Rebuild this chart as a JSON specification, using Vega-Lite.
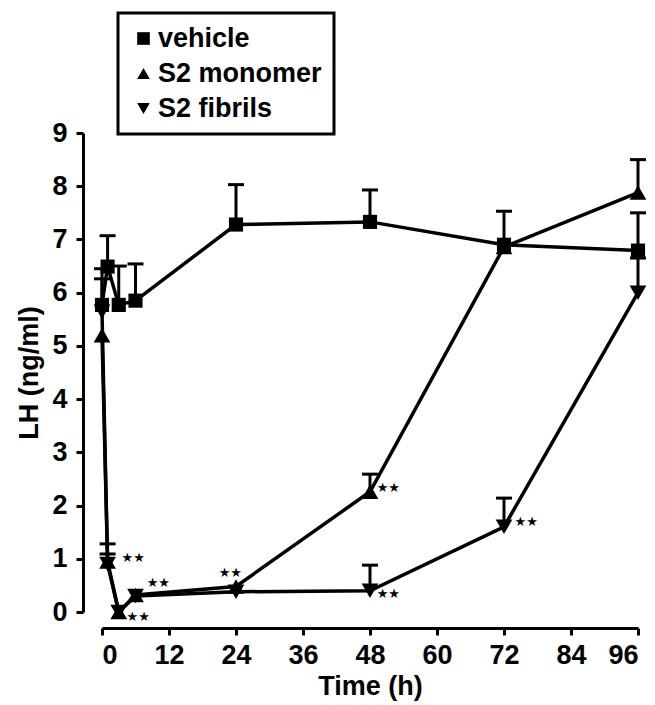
{
  "$schema": "https://vega.github.io/schema/vega-lite/v6.json",
  "width": 536,
  "height": 479,
  "autosize": {"type": "none"},
  "padding": {"left": 102, "top": 133, "right": 17, "bottom": 93},
  "background": "white",
  "config": {
    "view": {"stroke": null},
    "font": "Liberation Sans",
    "axis": {
      "grid": false,
      "domainColor": "black",
      "domainWidth": 3,
      "tickColor": "black",
      "tickWidth": 3,
      "tickSize": 7,
      "labelColor": "black",
      "labelFont": "Liberation Sans",
      "labelFontWeight": "bold",
      "labelFontSize": 27,
      "titleColor": "black",
      "titleFont": "Liberation Sans",
      "titleFontWeight": "bold",
      "titleFontSize": 27
    },
    "legend": {
      "orient": "none",
      "legendX": 16,
      "legendY": -120,
      "strokeColor": "black",
      "strokeWidth": 3,
      "padding": 12,
      "fillColor": "white",
      "labelFont": "Liberation Sans",
      "labelFontWeight": "bold",
      "labelFontSize": 27,
      "labelColor": "black",
      "labelOffset": 1,
      "labelLimit": 400,
      "rowPadding": 7,
      "symbolFillColor": "black",
      "symbolStrokeColor": "black",
      "symbolSize": 160,
      "symbolStrokeWidth": 0
    }
  },
  "datasets": {
    "lh": [
      {"group": "vehicle", "t": 0, "v": 5.77, "hi": 6.45},
      {"group": "vehicle", "t": 1, "v": 6.49, "hi": 7.07},
      {"group": "vehicle", "t": 3, "v": 5.77, "hi": 6.5},
      {"group": "vehicle", "t": 6, "v": 5.85, "hi": 6.54},
      {"group": "vehicle", "t": 24, "v": 7.28, "hi": 8.03},
      {"group": "vehicle", "t": 48, "v": 7.33, "hi": 7.93},
      {"group": "vehicle", "t": 72, "v": 6.9, "hi": 7.53},
      {"group": "vehicle", "t": 96, "v": 6.79, "hi": 7.5},
      {"group": "S2 monomer", "t": 0, "v": 5.2, "hi": null},
      {"group": "S2 monomer", "t": 1, "v": 0.95, "hi": 1.28},
      {"group": "S2 monomer", "t": 3, "v": 0.0, "hi": null},
      {"group": "S2 monomer", "t": 6, "v": 0.32, "hi": null},
      {"group": "S2 monomer", "t": 24, "v": 0.48, "hi": null},
      {"group": "S2 monomer", "t": 48, "v": 2.26, "hi": 2.59},
      {"group": "S2 monomer", "t": 72, "v": 6.86, "hi": null},
      {"group": "S2 monomer", "t": 96, "v": 7.88, "hi": 8.5},
      {"group": "S2 fibrils", "t": 0, "v": 5.64, "hi": 6.26},
      {"group": "S2 fibrils", "t": 1, "v": 0.9, "hi": 1.09},
      {"group": "S2 fibrils", "t": 3, "v": 0.0, "hi": null},
      {"group": "S2 fibrils", "t": 6, "v": 0.3, "hi": null},
      {"group": "S2 fibrils", "t": 24, "v": 0.38, "hi": null},
      {"group": "S2 fibrils", "t": 48, "v": 0.4, "hi": 0.88},
      {"group": "S2 fibrils", "t": 72, "v": 1.6, "hi": 2.14},
      {"group": "S2 fibrils", "t": 96, "v": 6.0, "hi": 6.65}
    ],
    "stars": [
      {"t": 3.5, "v": 1.02, "label": "★★"},
      {"t": 4.4, "v": -0.09, "label": "★★"},
      {"t": 8.0, "v": 0.55, "label": "★★"},
      {"t": 20.9, "v": 0.73, "label": "★★"},
      {"t": 49.2, "v": 2.33, "label": "★★"},
      {"t": 49.2, "v": 0.34, "label": "★★"},
      {"t": 73.9, "v": 1.69, "label": "★★"}
    ]
  },
  "layer": [
    {
      "data": {"name": "lh"},
      "mark": {"type": "line", "color": "black", "strokeWidth": 3.5, "clip": false},
      "encoding": {
        "x": {"field": "t", "type": "quantitative", "scale": {"domain": [0, 96], "nice": false},
          "axis": {"values": [0, 12, 24, 36, 48, 60, 72, 84, 96], "title": "Time (h)", "offset": 16, "labelPadding": 7, "titlePadding": 5}},
        "y": {"field": "v", "type": "quantitative", "scale": {"domain": [0, 9], "nice": false},
          "axis": {"values": [0, 1, 2, 3, 4, 5, 6, 7, 8, 9], "title": "LH (ng/ml)", "offset": 19, "labelPadding": 9, "titlePadding": 8}},
        "detail": {"field": "group"},
        "order": {"field": "t"}
      }
    },
    {
      "data": {"name": "lh"},
      "transform": [{"filter": "datum.hi != null"}],
      "mark": {"type": "rule", "color": "black", "strokeWidth": 3},
      "encoding": {
        "x": {"field": "t", "type": "quantitative"},
        "y": {"field": "v", "type": "quantitative"},
        "y2": {"field": "hi"}
      }
    },
    {
      "data": {"name": "lh"},
      "transform": [{"filter": "datum.hi != null"}],
      "mark": {"type": "tick", "color": "black", "orient": "horizontal", "size": 16, "thickness": 3, "opacity": 1},
      "encoding": {
        "x": {"field": "t", "type": "quantitative"},
        "y": {"field": "hi", "type": "quantitative"}
      }
    },
    {
      "data": {"name": "lh"},
      "transform": [{"filter": "datum.group != 'vehicle'"}],
      "mark": {"type": "point", "filled": true, "color": "black", "opacity": 1, "size": 280},
      "encoding": {
        "x": {"field": "t", "type": "quantitative"},
        "y": {"field": "v", "type": "quantitative"},
        "shape": {"field": "group", "type": "nominal",
          "scale": {"domain": ["vehicle", "S2 monomer", "S2 fibrils"], "range": ["square", "triangle-up", "triangle-down"]},
          "legend": {"title": null, "symbolSize": 160, "labelExpr": "datum.label + '\u00a0\u00a0\u00a0\u00a0\u00a0'"}}
      }
    },
    {
      "data": {"name": "lh"},
      "transform": [{"filter": "datum.group == 'vehicle'"}],
      "mark": {"type": "point", "filled": true, "color": "black", "opacity": 1, "size": 200},
      "encoding": {
        "x": {"field": "t", "type": "quantitative"},
        "y": {"field": "v", "type": "quantitative"},
        "shape": {"field": "group", "type": "nominal"}
      }
    },
    {
      "data": {"name": "stars"},
      "mark": {"type": "text", "font": "DejaVu Sans", "fontSize": 13, "align": "left", "baseline": "middle", "color": "black"},
      "encoding": {
        "x": {"field": "t", "type": "quantitative"},
        "y": {"field": "v", "type": "quantitative"},
        "text": {"field": "label"}
      }
    }
  ]
}
